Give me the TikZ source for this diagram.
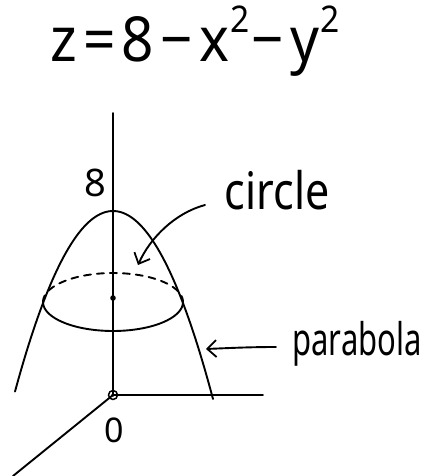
\documentclass[tikz,border=0pt]{standalone}
\usepackage{graphicx}
\usepackage{fontspec}
\setmainfont{Noto Sans}
\usetikzlibrary{arrows.meta}
\newcommand{\supsq}{\hspace{1pt}\raisebox{26pt}{\fontsize{32}{32}\selectfont 2}}
\newcommand{\gapx}{\hspace{6pt}}
\begin{document}
\begin{tikzpicture}[x=1pt,y=-1pt, line width=1.9pt, line cap=round, line join=round,
  lbl/.style={inner sep=0pt},
  backhalf/.style={dash pattern=on 7pt off 6pt},
  barb/.style={-{Straight Barb[length=9pt,width=17pt,line width=1.8pt]}}]
\useasboundingbox (0,0) rectangle (422,476);
% axes
\coordinate (O) at (113,395);
\coordinate (ztop) at (113,113);
\coordinate (xend) at (263,395);
\coordinate (yend) at (13,476);
\draw (O) -- (ztop);
\draw (O) -- (xend);
\draw (O) -- (yend);
% parabola
\draw plot[domain=15:213,samples=90] ({\x},{211+0.0188*(\x-113)*(\x-113)});
% circle (ellipse)
\draw plot[domain=0:180,samples=60] ({113+70*cos(\x)},{302+29*sin(\x)});
\draw[backhalf] plot[domain=180:360,samples=60] ({113+70*cos(\x)},{302+29*sin(\x)});
\fill (113,298) circle[radius=2.8pt];
% origin mark
\draw[line width=1.5pt] (O) circle[radius=4.5pt];
\fill (O) circle[radius=1.8pt];
% labels
\node[lbl,anchor=base] (eq) at (195,62) {\scalebox{1.05}[1.15]{\fontsize{54}{54}\selectfont z\gapx=\gapx 8\gapx−\gapx x\supsq\hspace{2pt}−\gapx y\supsq}};
\node[lbl] (eight) at (95,183) {\fontsize{38}{38}\selectfont 8};
\node[lbl] (zero) at (114,430) {\fontsize{34}{34}\selectfont 0};
\node[lbl] (circ) at (277,190) {\scalebox{1}[1.2]{\fontsize{43}{43}\selectfont circle}};
\node[lbl] (par) at (357,344) {\scalebox{1}[1.45]{\fontsize{31}{31}\selectfont parabola}};
% pointers
\coordinate (circstart) at (205,205);
\coordinate (circtip) at (138,265);
\coordinate (parstart) at (276,347);
\coordinate (partip) at (206,349);
\draw[barb] (circstart) .. controls (175,213) and (150,238) .. (circtip);
\draw[barb] (parstart) .. controls (250,347) and (230,348) .. (partip);
\end{tikzpicture}
\end{document}
